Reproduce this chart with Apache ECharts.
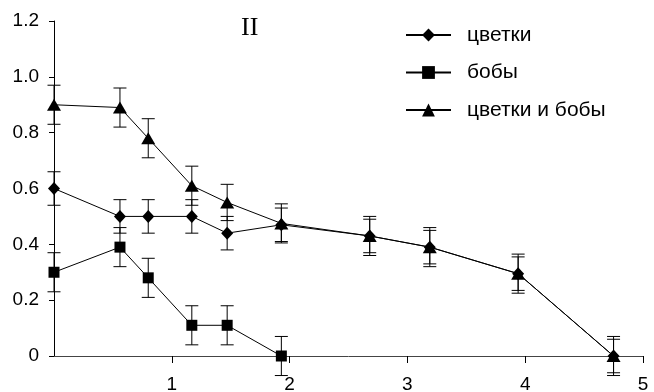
<!DOCTYPE html>
<html>
<head>
<meta charset="utf-8">
<script src="https://cdn.jsdelivr.net/npm/echarts@6/dist/echarts.min.js"></script>
<style>
html, body { margin: 0; padding: 0; background: #fff; }
#chart { width: 654px; height: 392px; }
</style>
</head>
<body>
<div id="chart"></div>
<script>
// Sampling points along the x axis
var xValues = [0, 0.56, 0.80, 1.17, 1.47, 1.93, 2.68, 3.19, 3.94, 4.75];

// цветки
var flowers = [0.60, 0.50, 0.50, 0.50, 0.44, 0.47, 0.43, 0.39, 0.295, 0];
var flowersErr = [0.06, 0.06, 0.06, 0.06, 0.06, 0.06, 0.06, 0.06, 0.06, 0.06];

// бобы (first six points only)
var beans = [0.30, 0.39, 0.28, 0.11, 0.11, 0];
var beansErr = [0.07, 0.07, 0.07, 0.07, 0.07, 0.07];

// цветки и бобы
var both = [0.90, 0.89, 0.78, 0.61, 0.55, 0.475, 0.43, 0.39, 0.295, 0];
var bothErr = [0.07, 0.07, 0.07, 0.07, 0.065, 0.07, 0.07, 0.07, 0.07, 0.07];

var seriesNames = ['цветки', 'бобы', 'цветки и бобы'];
var yTicks = [0, 0.2, 0.4, 0.6, 0.8, 1.0, 1.2];

function points(vals) {
  return vals.map(function (v, i) { return [xValues[i], v]; });
}
function errRows(vals, errs) {
  return vals.map(function (v, i) { return [xValues[i], v - errs[i], v + errs[i]]; });
}

function errorBarSeries(vals, errs) {
  return {
    type: 'custom',
    silent: true,
    clip: false,
    z: 1,
    data: errRows(vals, errs),
    encode: { x: 0, y: [1, 2] },
    renderItem: function (params, api) {
      var lo = api.coord([api.value(0), api.value(1)]);
      var hi = api.coord([api.value(0), api.value(2)]);
      var half = 6.5;
      var style = { stroke: '#000', lineWidth: 1 };
      return {
        type: 'group',
        children: [
          { type: 'line', shape: { x1: hi[0], y1: hi[1], x2: lo[0], y2: lo[1] }, style: style },
          { type: 'line', shape: { x1: hi[0] - half, y1: hi[1], x2: hi[0] + half, y2: hi[1] }, style: style },
          { type: 'line', shape: { x1: lo[0] - half, y1: lo[1], x2: lo[0] + half, y2: lo[1] }, style: style }
        ]
      };
    }
  };
}

function lineSeries(name, vals, symbol, size) {
  return {
    name: name,
    type: 'line',
    data: points(vals),
    symbol: symbol,
    symbolSize: size,
    showAllSymbol: true,
    clip: false,
    z: 3,
    lineStyle: { color: '#000', width: 1 },
    itemStyle: { color: '#000', borderWidth: 0 },
    emphasis: { disabled: true }
  };
}

var chart = echarts.init(document.getElementById('chart'), null, { renderer: 'canvas' });

chart.setOption({
  animation: false,
  backgroundColor: '#fff',
  textStyle: { fontFamily: 'Liberation Sans, Arial, sans-serif' },
  grid: { left: 54, right: 11, top: 21, bottom: 36, containLabel: false, outerBoundsMode: 'none' },
  graphic: [{
    type: 'text',
    left: 241,
    top: 15,
    style: {
      text: 'II',
      font: '26px "Liberation Serif", "Times New Roman", serif',
      fill: '#000'
    }
  }],
  legend: {
    orient: 'vertical',
    left: 405,
    top: 24,
    padding: 0,
    itemWidth: 45,
    itemHeight: 16,
    itemGap: 15.5,
    data: seriesNames,
    textStyle: { fontSize: 21, color: '#000', padding: [0, 0, 0, 11], lineHeight: 22 }
  },
  xAxis: {
    type: 'value',
    min: 0,
    max: 5,
    interval: 1,
    axisLine: { show: true, lineStyle: { color: '#444', width: 1 } },
    axisTick: { show: true, length: 7, lineStyle: { color: '#000' } },
    axisLabel: { showMinLabel: false, margin: 19, fontSize: 19, color: '#000' },
    splitLine: { show: false }
  },
  yAxis: {
    type: 'value',
    min: yTicks[0],
    max: yTicks[yTicks.length - 1],
    interval: 0.2,
    axisLine: { show: true, lineStyle: { color: '#000', width: 1 } },
    axisTick: { show: true, length: 5, lineStyle: { color: '#000' } },
    axisLabel: {
      margin: 15,
      fontSize: 19,
      color: '#000',
      formatter: function (v) { return v === 0 ? '0' : v.toFixed(1); }
    },
    splitLine: { show: false }
  },
  series: [
    errorBarSeries(flowers, flowersErr),
    errorBarSeries(beans, beansErr),
    errorBarSeries(both, bothErr),
    lineSeries(seriesNames[0], flowers, 'diamond', [12, 13]),
    lineSeries(seriesNames[1], beans, 'rect', 11),
    lineSeries(seriesNames[2], both, 'triangle', [14, 12])
  ]
});
</script>
</body>
</html>
